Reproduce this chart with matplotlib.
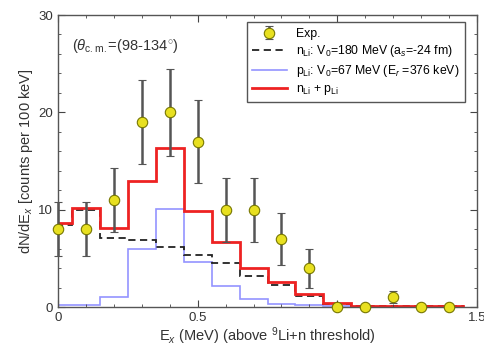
import matplotlib
matplotlib.use('Agg')
import matplotlib.pyplot as plt
import numpy as np

# bin centres (MeV), 100 keV bins
ex = [0.0, 0.1, 0.2, 0.3, 0.4, 0.5, 0.6, 0.7, 0.8, 0.9, 1.0, 1.1, 1.2, 1.3, 1.4]

# experimental counts and errors
exp_counts = [8, 8, 11, 19, 20, 17, 10, 10, 7, 4, 0, 0, 1, 0, 0]
exp_err = [2.8, 2.8, 3.3, 4.3, 4.5, 4.3, 3.3, 3.3, 2.7, 2.0, 0, 0, 0.6, 0, 0]

# calculated spectra
n_li = [8.4, 10.0, 7.1, 6.9, 6.2, 5.3, 4.5, 3.2, 2.3, 1.1, 0.3, 0.1, 0.1, 0.1, 0.1]
p_li = [0.2, 0.2, 1.0, 6.0, 10.1, 4.6, 2.2, 0.8, 0.3, 0.2, 0.1, 0.05, 0.0, 0.0, 0.0]
n_plus_p = [8.6, 10.2, 8.1, 12.9, 16.3, 9.9, 6.7, 4.0, 2.6, 1.3, 0.4, 0.15, 0.1, 0.1, 0.1]

edges = np.append(np.array(ex) - 0.05, ex[-1] + 0.05)

plt.rcParams['font.family'] = ['Liberation Sans', 'DejaVu Sans']
plt.rcParams['mathtext.fontset'] = 'custom'
plt.rcParams['mathtext.rm'] = 'Liberation Sans'
plt.rcParams['mathtext.it'] = 'Liberation Sans:italic'

fig = plt.figure(figsize=(4.85, 3.55), dpi=100)
ax = fig.add_axes([0.1196, 0.1352, 0.8639, 0.8225])

ax.stairs(p_li, edges, color='#8888ff', lw=1.2, alpha=0.9,
          label=r'p$_{\rm Li}$: V$_0$=67 MeV (E$_r$ =376 keV)')
ax.stairs(n_li, edges, color='#222222', lw=1.3, ls=(0, (4, 2.5)),
          label=r'n$_{\rm Li}$: V$_0$=180 MeV (a$_s$=-24 fm)')
ax.stairs(n_plus_p, edges, color='#ee2222', lw=2.0,
          label=r'n$_{\rm Li}$ + p$_{\rm Li}$')
ax.errorbar(ex, exp_counts, yerr=exp_err, fmt='o', color='#e8e020',
            mec='#777700', mew=0.8, ms=7.5, ecolor='#555555', elinewidth=1.8,
            capsize=3, capthick=1.2, clip_on=False, zorder=5, label='Exp.')

ax.set_xlim(0, 1.5)
ax.set_ylim(0, 30)
ax.set_xticks([0, 0.5, 1.0, 1.5])
ax.set_xticklabels(['0', '0.5', '', '1.5'])
ax.set_xticks(np.arange(0, 1.51, 0.1), minor=True)
ax.set_yticks([0, 10, 20, 30])
ax.set_yticks(np.arange(0, 30.1, 2), minor=True)
ax.tick_params(which='both', direction='in', top=True, right=True,
               labelsize=9.5, color='#444444', labelcolor='#333333')
ax.tick_params(which='major', length=5)
ax.tick_params(which='minor', length=2.5)
for s in ax.spines.values():
    s.set_color('#555555')
    s.set_linewidth(1.0)

ax.set_xlabel(r'E$_x$ (MeV) (above $^9$Li+n threshold)', fontsize=10.5,
              color='#333333', labelpad=1)
ax.set_ylabel(r'dN/dE$_x$ [counts per 100 keV]', fontsize=10.5,
              color='#333333', labelpad=2)

ax.text(0.05, 26.4, r'($\theta_{\rm c.m.}$=(98-134$^{\circ}$)', fontsize=10.5, color='#333333')

h, l = ax.get_legend_handles_labels()
order = [3, 1, 0, 2]
leg = ax.legend([h[i] for i in order], [l[i] for i in order], loc='upper right',
                bbox_to_anchor=(0.972, 0.975), fontsize=8.8, fancybox=False,
                edgecolor='#555555', framealpha=1, handlelength=2.8,
                borderpad=0.45, labelspacing=0.3, borderaxespad=0)
leg.get_frame().set_linewidth(1.0)

fig.savefig('out.png', dpi=100)
